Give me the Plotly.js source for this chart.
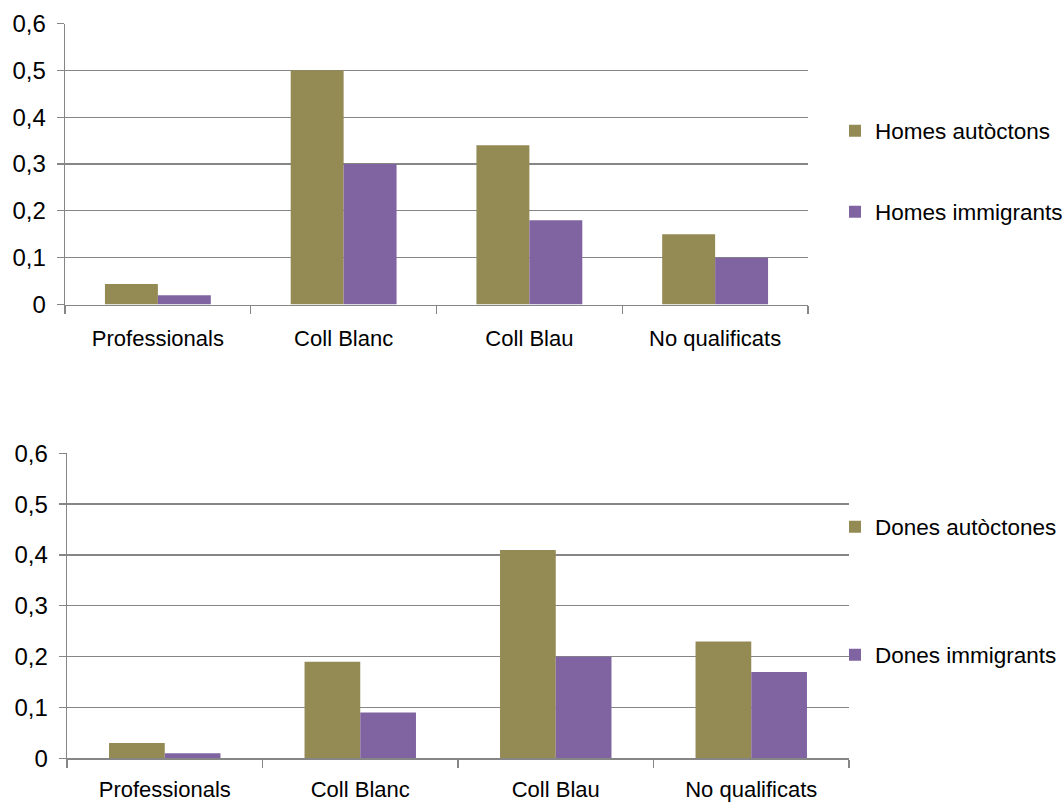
<!DOCTYPE html>
<html>
<head>
<meta charset="utf-8">
<script src="https://cdn.plot.ly/plotly-3.0.1.min.js"></script>
<style>html,body{margin:0;padding:0;background:#fff;}</style>
</head>
<body>
<div id="chart" style="width:1063px;height:804px;"></div>
<script>
var categories = ["Professionals", "Coll Blanc", "Coll Blau", "No qualificats"];
var homesAutoctons = [0.044, 0.50, 0.34, 0.15];
var homesImmigrants = [0.02, 0.30, 0.18, 0.10];
var donesAutoctones = [0.03, 0.19, 0.41, 0.23];
var donesImmigrants = [0.01, 0.09, 0.20, 0.17];
var yTicks = [0, 0.1, 0.2, 0.3, 0.4, 0.5, 0.6];

var FONT = "'Liberation Sans Narrow', 'Arial Narrow', 'Liberation Sans', Arial, sans-serif";
var FS = 22;
var OLIVE = "#948A54";
var PURPLE = "#8064A2";
var GRID = "#868686";
var W = 1063, H = 804;

function bar(name, y, color, xa, ya, leg) {
  return {type: "bar", name: name, x: categories, y: y, xaxis: xa, yaxis: ya,
          marker: {color: color, line: {width: 0}}, legend: leg, hoverinfo: "none"};
}

var data = [
  bar("Homes autòctons", homesAutoctons, OLIVE, "x", "y", "legend"),
  bar("Homes immigrants", homesImmigrants, PURPLE, "x", "y", "legend2"),
  bar("Dones autòctones", donesAutoctones, OLIVE, "x2", "y2", "legend3"),
  bar("Dones immigrants", donesImmigrants, PURPLE, "x2", "y2", "legend4")
];

function xax(x0, x1, anchor, standoff) {
  return {domain: [x0 / W, x1 / W], anchor: anchor, type: "category",
          showline: true, linecolor: GRID, linewidth: 1.3,
          ticks: "outside", tickson: "boundaries", ticklen: 8, tickcolor: GRID, tickwidth: 1.3,
          ticklabelstandoff: standoff,
          showgrid: false, automargin: false, fixedrange: true,
          tickfont: {family: FONT, size: FS, color: "#000"}};
}
function yax(y0px, y1px, anchor) {
  return {domain: [1 - y0px / H, 1 - y1px / H], anchor: anchor, range: [0, 0.6],
          tickvals: yTicks, ticks: "outside", ticklen: 7, tickcolor: GRID, tickwidth: 1.3,
          ticklabelstandoff: 6,
          showline: true, linecolor: GRID, linewidth: 1.3,
          showgrid: true, gridcolor: GRID, gridwidth: 1.3, zeroline: false,
          automargin: false, fixedrange: true,
          tickfont: {family: FONT, size: 24, color: "#000"}};
}
function leg(ypx) {
  return {x: 835 / W, y: 1 - ypx / H, xref: "container", yref: "container",
          xanchor: "left", yanchor: "middle",
          bgcolor: "rgba(0,0,0,0)", borderwidth: 0, itemwidth: 30,
          font: {family: FONT, size: 22.5, color: "#000"}};
}

var layout = {
  width: W, height: H,
  margin: {l: 0, r: 0, t: 0, b: 0, autoexpand: false},
  separators: ",.",
  paper_bgcolor: "#fff", plot_bgcolor: "#fff",
  barmode: "group", bargap: 0.43, bargroupgap: 0,
  showlegend: true,
  font: {family: FONT, color: "#000"},
  xaxis: xax(65, 808, "y", 14),
  yaxis: yax(304.5, 23.5, "x"),
  xaxis2: xax(67, 849, "y2", 11),
  yaxis2: yax(758.3, 453.3, "x2"),
  legend: leg(131),
  legend2: leg(212),
  legend3: leg(527),
  legend4: leg(655)
};

Plotly.newPlot("chart", data, layout, {displayModeBar: false, staticPlot: true});
</script>
</body>
</html>
